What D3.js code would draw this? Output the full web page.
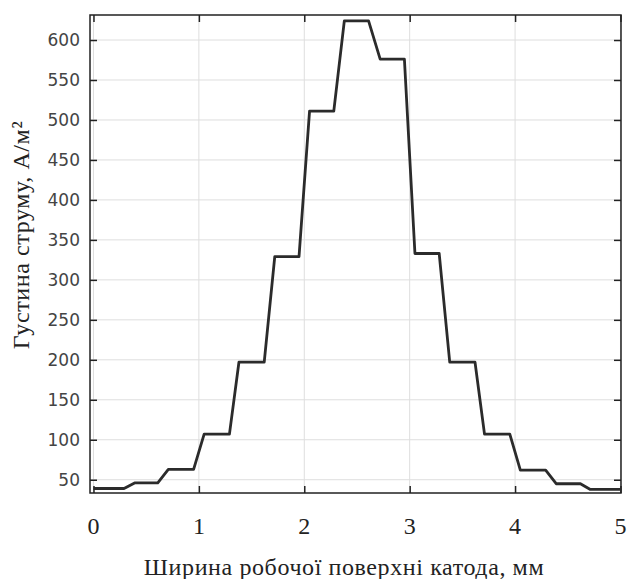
<!DOCTYPE html>
<html>
<head>
<meta charset="utf-8">
<script src="https://cdn.jsdelivr.net/npm/d3@7/dist/d3.min.js"></script>
<style>
  html, body { margin: 0; padding: 0; background: #fff; }
  svg { display: block; }
</style>
</head>
<body>
<svg id="chart" width="629" height="579"></svg>
<script>
// Data: stepped current density profile
const xValues = [0.00, 0.29, 0.39, 0.61, 0.71, 0.95, 1.05, 1.29, 1.38, 1.62, 1.72, 1.95,
                 2.05, 2.28, 2.38, 2.61, 2.72, 2.95, 3.05, 3.28, 3.38, 3.62, 3.71, 3.95,
                 4.05, 4.29, 4.39, 4.62, 4.71, 5.00];
const yValues = [39, 39, 46, 46, 63, 63, 107, 107, 197, 197, 329, 329,
                 511, 511, 624, 624, 576, 576, 333, 333, 197, 197, 107, 107,
                 62, 62, 45, 45, 38, 38];
const xTicks = [0, 1, 2, 3, 4, 5];
const yTicks = [50, 100, 150, 200, 250, 300, 350, 400, 450, 500, 550, 600];
const xTitle = "Ширина робочої поверхні катода, мм";
const yTitle = "Густина струму, А/м²";

const svg = d3.select("#chart");
const L = 90, T = 15, R = 621, B = 493;

const x = d3.scaleLinear().domain([-0.033, 5.005]).range([L, R]);
const y = d3.scaleLinear().domain([33.4, 631.3]).range([B, T]);

// grid
const grid = svg.append("g");
grid.selectAll("line.vx").data(xTicks).enter().append("line")
  .attr("x1", d => x(d)).attr("x2", d => x(d)).attr("y1", T).attr("y2", B)
  .attr("stroke", "#dedede").attr("stroke-width", 1);
grid.selectAll("line.hy").data(yTicks).enter().append("line")
  .attr("x1", L).attr("x2", R).attr("y1", d => y(d)).attr("y2", d => y(d))
  .attr("stroke", "#dedede").attr("stroke-width", 1);

// axes with inward ticks on all sides
const tickLen = 7;
const axL = svg.append("g").attr("transform", `translate(${L},0)`)
  .call(d3.axisRight(y).tickValues(yTicks).tickSize(tickLen).tickFormat(""));
const axR = svg.append("g").attr("transform", `translate(${R},0)`)
  .call(d3.axisLeft(y).tickValues(yTicks).tickSize(tickLen).tickFormat(""));
const axB = svg.append("g").attr("transform", `translate(0,${B})`)
  .call(d3.axisTop(x).tickValues(xTicks).tickSize(tickLen).tickFormat(""));
const axT = svg.append("g").attr("transform", `translate(0,${T})`)
  .call(d3.axisBottom(x).tickValues(xTicks).tickSize(tickLen).tickFormat(""));
[axL, axR, axB, axT].forEach(a => {
  a.select(".domain").remove();
  a.selectAll(".tick line").attr("stroke", "#222").attr("stroke-width", 1.5);
});

// frame
svg.append("rect").attr("x", L).attr("y", T).attr("width", R - L).attr("height", B - T)
  .attr("fill", "none").attr("stroke", "#222").attr("stroke-width", 1.5);

// y tick labels (sans)
svg.append("g").selectAll("text").data(yTicks).enter().append("text")
  .attr("x", 80).attr("y", d => y(d)).attr("dy", "0.36em")
  .attr("text-anchor", "end")
  .attr("font-family", "DejaVu Sans, sans-serif").attr("font-size", 17)
  .attr("fill", "#444")
  .text(d => d);

// x tick labels (serif)
svg.append("g").selectAll("text").data(xTicks).enter().append("text")
  .attr("x", d => x(d)).attr("y", 534)
  .attr("text-anchor", "middle")
  .attr("font-family", "Liberation Serif, Times New Roman, serif").attr("font-size", 24)
  .attr("fill", "#222")
  .text(d => d);

// axis titles
svg.append("text").attr("x", 344).attr("y", 575)
  .attr("text-anchor", "middle")
  .attr("font-family", "Liberation Serif, Times New Roman, serif").attr("font-size", 24)
  .attr("letter-spacing", 0.6)
  .attr("fill", "#222").text(xTitle);
svg.append("text").attr("transform", "translate(29,235) rotate(-90)")
  .attr("text-anchor", "middle")
  .attr("font-family", "Liberation Serif, Times New Roman, serif").attr("font-size", 24)
  .attr("letter-spacing", 0.6)
  .attr("fill", "#222").text(yTitle);

// line
const pts = xValues.map((d, i) => [d, yValues[i]]);
svg.append("path").datum(pts)
  .attr("d", d3.line().x(d => x(d[0])).y(d => y(d[1])))
  .attr("fill", "none").attr("stroke", "#2b2b2b").attr("stroke-width", 2.8)
  .attr("stroke-linejoin", "round");
</script>
</body>
</html>
